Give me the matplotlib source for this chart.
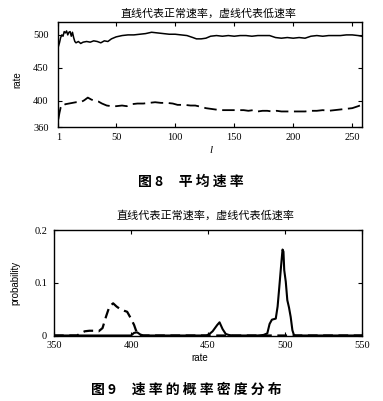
import numpy as np
import matplotlib.pyplot as plt

plt.rcParams['font.family'] = ['Liberation Serif', 'Noto Sans CJK SC', 'DejaVu Sans']
plt.rcParams['lines.scale_dashes'] = False

# ---- figure 8: average rate vs l ----
l_normal = [1, 2, 3, 4, 5, 6, 7, 8, 9, 10, 11, 12, 13, 14, 15, 16, 18, 20, 22, 25,
            28, 31, 34, 37, 40, 43, 46, 50, 55, 60, 65, 70, 75, 80, 85, 90, 95, 100,
            105, 110, 115, 118, 122, 126, 130, 135, 140, 145, 150, 155, 160, 165, 170,
            175, 180, 185, 190, 195, 200, 205, 210, 215, 220, 225, 230, 235, 240, 245,
            250, 255, 258]
rate_normal = [482, 488, 496, 500, 498, 505, 503, 506, 500, 504, 505, 498, 504, 496, 490,
               488, 490, 487, 489, 490, 489, 491, 490, 488, 491, 490, 494, 497, 499, 500,
               500, 501, 502, 504, 503, 502, 501, 501, 500, 499, 496, 494, 494, 495, 498,
               499, 498, 499, 498, 499, 499, 498, 499, 499, 499, 496, 495, 496, 495, 496,
               495, 498, 499, 498, 499, 499, 499, 500, 500, 499, 498]

l_low = [1, 2, 3, 4, 5, 7, 10, 13, 16, 20, 23, 26, 29, 32, 35, 38, 42, 46, 50, 55, 59,
         63, 68, 73, 78, 83, 88, 93, 98, 102, 108, 113, 117, 122, 126, 130, 134, 138,
         142, 148, 153, 158, 162, 166, 170, 174, 178, 182, 186, 190, 195, 200, 205, 210,
         215, 220, 225, 230, 235, 240, 245, 250, 255, 258]
rate_low = [372, 382, 390, 394, 393, 395, 396, 397, 398, 398, 401, 405, 402, 400, 399,
            396, 393, 392, 392, 393, 392, 395, 396, 396, 397, 398, 397, 397, 396, 394,
            394, 393, 393, 391, 389, 388, 387, 386, 386, 386, 386, 386, 385, 386, 384,
            385, 385, 384, 385, 384, 384, 384, 384, 384, 385, 385, 386, 385, 386, 387,
            388, 389, 392, 394]

# ---- figure 9: probability density of rate ----
r_normal = [350, 400, 402, 404, 406, 408, 449, 451, 453, 456, 457.5, 459.5, 461.5, 463.5,
            466, 482, 486, 488.5, 490, 491.5, 494, 495.2, 496.3, 497.4, 498.4, 499,
            499.5, 500.5, 501.5, 502.6, 503.7, 504.8, 505.8, 507, 550]
p_normal = [0, 0, 0.005, 0.006, 0.002, 0, 0, 0.003, 0.008, 0.02, 0.025, 0.012, 0.003,
            0.001, 0, 0, 0.001, 0.004, 0.022, 0.03, 0.032, 0.055, 0.092, 0.13, 0.163,
            0.159, 0.124, 0.102, 0.067, 0.053, 0.035, 0.01, 0.001, 0, 0]

r_low = [350, 365, 367, 370, 373, 377, 379, 381.5, 383.8, 386, 388.4, 390.6, 393, 395.5,
         397.5, 399.8, 402, 403.2, 405.5, 550]
p_low = [0, 0, 0.004, 0.008, 0.009, 0.009, 0.008, 0.014, 0.036, 0.055, 0.061, 0.055,
         0.05, 0.047, 0.045, 0.033, 0.02, 0.01, 0, 0]

W, H = 383, 401
fig = plt.figure(figsize=(W / 100, H / 100), dpi=100)


def box(l, r, t, b):
    return [l / W, 1 - b / H, (r - l) / W, (b - t) / H]


def style(ax, pad):
    ax.tick_params(direction='in', top=True, right=True, length=3, width=0.8,
                   labelsize=7.5, colors='black')
    ax.tick_params(axis='y', pad=pad)
    ax.tick_params(axis='x', pad=4)
    for s in ax.spines.values():
        s.set_linewidth(1.0)


ax1 = fig.add_axes(box(58.3, 361.7, 21.7, 127.3))
ax1.plot(l_normal, rate_normal, color='black', lw=1.1)
ax1.plot(l_low, rate_low, color='black', lw=1.3, dashes=(9, 4))
ax1.set_xlim(1, 258)
ax1.set_ylim(360, 520)
ax1.set_xticks([1, 50, 100, 150, 200, 250])
ax1.set_yticks([360, 400, 450, 500])
style(ax1, 7)
ax1.set_ylabel('rate', family=['Liberation Sans'], fontsize=7)
ax1.yaxis.set_label_coords(-0.12, 0.45)
ax1.set_xlabel('l', fontsize=8, style='italic')
ax1.xaxis.set_label_coords(0.503, -0.215)
ax1.xaxis.label.set_va('center')

ax2 = fig.add_axes(box(54, 362, 230, 335.5))
ax2.plot(r_normal, p_normal, color='black', lw=1.5)
ax2.plot(r_low, p_low, color='black', lw=1.6, dashes=(7, 4))
ax2.set_xlim(350, 550)
ax2.set_ylim(0, 0.2)
ax2.set_xticks([350, 400, 450, 500, 550])
ax2.set_yticks([0, 0.1, 0.2])
ax2.set_yticklabels(['0', '0.1', '0.2'])
style(ax2, 5)
ax2.set_ylabel('probability', family=['Liberation Sans'], fontsize=7)
ax2.yaxis.set_label_coords(-0.109, 0.5)
ax2.set_xlabel('rate', family=['Liberation Sans'], fontsize=7)
ax2.xaxis.set_label_coords(0.474, -0.216)
ax2.xaxis.label.set_va('center')

cjk = ['Noto Sans CJK SC', 'DejaVu Sans']
fig.text(209 / W, 1 - 13.3 / H, '直线代表正常速率，虚线代表低速率', family=cjk,
         fontsize=7.9, ha='center', va='center')
fig.text(205.8 / W, 1 - 215.7 / H, '直线代表正常速率，虚线代表低速率', family=cjk,
         fontsize=8, ha='center', va='center')
fig.text(190.8 / W, 1 - 181.7 / H, '图 8     平 均 速 率', family=cjk, fontsize=10,
         weight='bold', ha='center', va='center')
fig.text(186.7 / W, 1 - 389.3 / H, '图 9     速 率 的 概 率 密 度 分 布', family=cjk,
         fontsize=10, weight='bold', ha='center', va='center')

fig.savefig('out.png', dpi=100)
